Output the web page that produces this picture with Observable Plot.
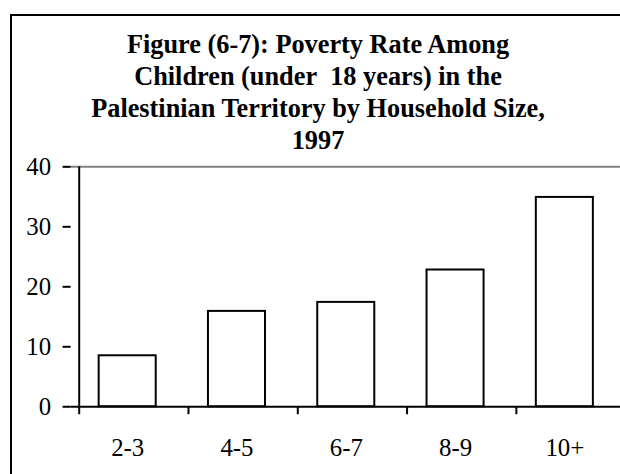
<!DOCTYPE html>
<html>
<head>
<meta charset="utf-8">
<script src="https://cdn.jsdelivr.net/npm/d3@7"></script>
<script src="https://cdn.jsdelivr.net/npm/@observablehq/plot@0.6"></script>
<style>
  html, body { margin: 0; padding: 0; width: 620px; height: 474px; overflow: hidden; background: #fff; }
  #frame { position: absolute; left: 10px; top: 14px; width: 610px; height: 460px; border-left: 2px solid #000; border-top: 2px solid #000; box-sizing: border-box; }
  #title { position: absolute; left: 16px; top: 29px; width: 604px; text-align: center;
    font-family: "Liberation Serif", "Times New Roman", serif; font-weight: bold; font-size: 26.3px; line-height: 32px; color: #000; }
  #chart { position: absolute; left: 0; top: 140px; width: 620px; height: 334px; overflow: hidden; }
</style>
</head>
<body>
<div id="frame"></div>
<div id="title">Figure (6-7): Poverty Rate Among<br>Children (under&nbsp; 18 years) in the<br>Palestinian Territory by Household Size,<br>1997</div>
<div id="chart"></div>
<script>
const categories = ["2-3", "4-5", "6-7", "8-9", "10+"];
const povertyRate = [8.5, 15.9, 17.4, 22.8, 34.9];
const yTicks = [0, 10, 20, 30, 40];

const data = categories.map((c, i) => ({size: c, rate: povertyRate[i]}));

const W = 624, H = 334, mL = 71, mR = 0, mT = 26.5, mB = 66;
const xs = Plot.scale({x: {type: "band", domain: categories, range: [mL, W - mR]}});
const bw = xs.bandwidth;
const barW = 45;
const inset = (bw - barW) / 2;
const font = '"Liberation Serif", "Times New Roman", serif';
const fs = 25;

const chart = Plot.plot({
  width: W,
  height: H,
  marginLeft: mL,
  marginRight: mR,
  marginTop: mT,
  marginBottom: mB,
  style: {fontFamily: font, fontSize: fs + "px", color: "#000", background: "transparent"},
  x: {type: "band", domain: categories, padding: 0},
  y: {domain: [0, 40]},
  marks: [
    Plot.ruleY([40], {stroke: "#808080", strokeWidth: 2}),
    Plot.barY(data, {x: "size", y: "rate", fill: "#fff", stroke: "#000", strokeWidth: 2, insetLeft: inset, insetRight: inset}),
    Plot.ruleY([0], {stroke: "#000", strokeWidth: 2}),
    Plot.ruleX([categories[0]], {y1: 0, y2: 40, dx: -bw / 2, stroke: "#000", strokeWidth: 2}),
    Plot.axisY({ticks: yTicks, tickSize: 8, tickPadding: 12, strokeWidth: 2, tickFormat: d => String(d), fontSize: fs, fontFamily: font, label: null}),
    Plot.axisX({ticks: categories, tickSize: 8, strokeWidth: 2, dx: -bw / 2, text: null, label: null}),
    Plot.axisX({ticks: categories, tickSize: 0, tickPadding: 32, fontSize: fs, fontFamily: font, label: null})
  ]
});
document.getElementById("chart").appendChild(chart);
</script>
</body>
</html>
